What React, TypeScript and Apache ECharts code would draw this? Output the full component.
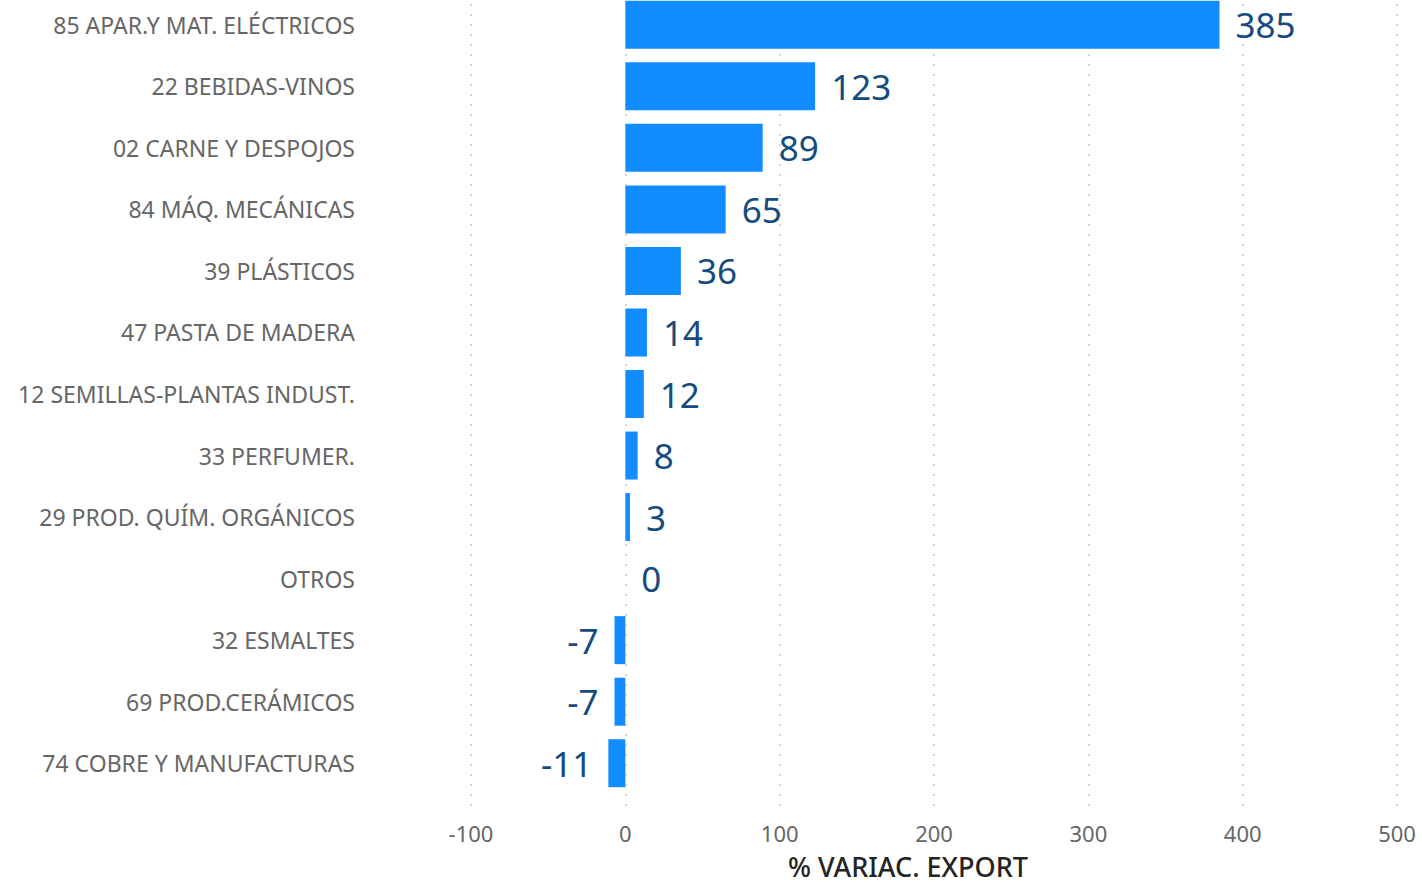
import React, { useEffect, useRef } from "react";
import * as echarts from "echarts";

const categories = [
  "85 APAR.Y MAT. ELÉCTRICOS",
  "22 BEBIDAS-VINOS",
  "02 CARNE Y DESPOJOS",
  "84 MÁQ. MECÁNICAS",
  "39 PLÁSTICOS",
  "47 PASTA DE MADERA",
  "12 SEMILLAS-PLANTAS INDUST.",
  "33 PERFUMER.",
  "29 PROD. QUÍM. ORGÁNICOS",
  "OTROS",
  "32 ESMALTES",
  "69 PROD.CERÁMICOS",
  "74 COBRE Y MANUFACTURAS",
];
const values = [385, 123, 89, 65, 36, 14, 12, 8, 3, 0, -7, -7, -11];
const axisTitle = "% VARIAC. EXPORT";

export default function App() {
  const ref = useRef<HTMLDivElement>(null);
  useEffect(() => {
    const chart = echarts.init(ref.current!, null, { renderer: "svg" });
    const font = "'Noto Sans', 'Open Sans', sans-serif";
    chart.setOption({
      animation: false,
      grid: [
        { left: 471, right: 25, top: 0, height: 800, containLabel: false },
        { left: 471, right: 25, top: 0, height: 819, containLabel: false },
      ],
      xAxis: [
        {
          type: "value",
          gridIndex: 0,
          min: -100,
          max: 500,
          interval: 100,
          axisLine: { show: false },
          axisTick: { show: false },
          axisLabel: { color: "#666666", fontSize: 22, fontFamily: font, margin: 28 },
          splitLine: { show: false },
        },
        {
          type: "value",
          gridIndex: 1,
          min: -100,
          max: 500,
          interval: 100,
          axisLine: { show: false },
          axisTick: { show: false },
          axisLabel: { show: false },
          splitLine: { show: true, lineStyle: { color: "#c8c8c8", type: [2, 8], width: 1.5 } },
          z: 0,
        },
      ],
      yAxis: [
        {
          type: "category",
          gridIndex: 0,
          inverse: true,
          data: categories,
          axisLine: { show: false },
          axisTick: { show: false },
          axisLabel: { color: "#666666", fontSize: 23, fontFamily: font, margin: 116 },
        },
        {
          type: "value",
          gridIndex: 1,
          min: 0,
          max: 1,
          show: false,
        },
      ],
      graphic: [
        {
          type: "text",
          left: 788,
          top: 859,
          style: { text: axisTitle, fill: "#252423", font: `500 27px ${font}` },
        },
      ],
      series: [
        {
          type: "bar",
          xAxisIndex: 0,
          yAxisIndex: 0,
          data: values.map((v) => ({
            value: v,
            label: { position: v < 0 ? "left" : "right" },
          })),
          barCategoryGap: "22%",
          itemStyle: { color: "#118DFF" },
          z: 5,
          label: {
            show: true,
            distance: 16,
            color: "#164B7E",
            fontSize: 35,
            fontFamily: font,
          },
        },
      ],
    });
    return () => chart.dispose();
  }, []);
  return (
    <div
      ref={ref}
      style={{ position: "absolute", left: 0, top: -6, width: 1422, height: 890 }}
    />
  );
}
